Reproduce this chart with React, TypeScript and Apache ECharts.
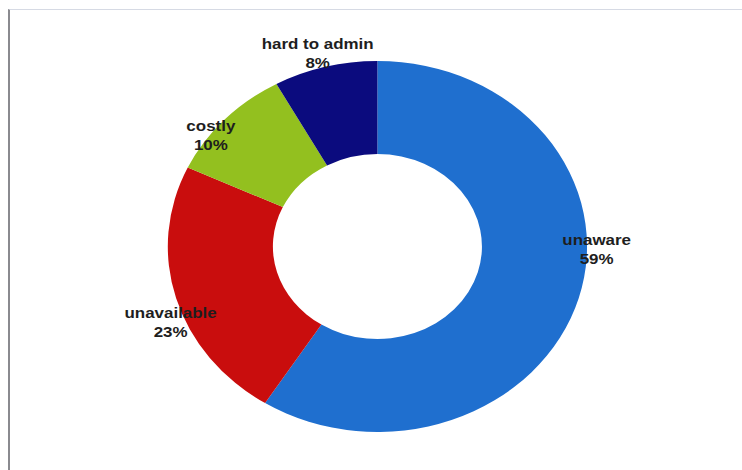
import React, { useEffect, useRef } from "react";
import * as echarts from "echarts";

// Reasons and their shares (%)
const reasons = ["unaware", "unavailable", "costly", "hard to admin"];
const shares = [59, 23, 10, 8];
const sliceColors = ["#1f6fcf", "#c90d0d", "#93c01f", "#0b0b7e"];

// The chart is laid out at this width and stretched horizontally,
// which turns the ring into the wide oval.
const STRETCH = 1.13;
const BASE_W = 742 / STRETCH;

// Nudges for each label away from its slice's mid-angle point on the rim
const labelNudges: [number, number][] = [
  [13, -50],
  [-2, 23],
  [-10, 18],
  [-6, -11],
];

export default function App() {
  const ref = useRef<HTMLDivElement>(null);

  useEffect(() => {
    if (!ref.current) return;
    const chart = echarts.init(ref.current, undefined, { renderer: "svg" });
    const center = [334, 246.5];

    chart.setOption({
      animation: false,
      backgroundColor: "transparent",
      series: [
        {
          type: "pie",
          center,
          radius: [92.5, 185.5],
          startAngle: 90,
          clockwise: true,
          silent: true,
          label: { show: false },
          labelLine: { show: false },
          data: reasons.map((name, i) => ({
            name,
            value: shares[i],
            itemStyle: { color: sliceColors[i] },
          })),
        },
        {
          // invisible ring along the rim that only carries the labels
          type: "pie",
          center,
          radius: [175, 196],
          startAngle: 90,
          clockwise: true,
          silent: true,
          z: 5,
          itemStyle: { color: "rgba(0,0,0,0)" },
          labelLine: { show: false },
          data: reasons.map((name, i) => ({
            name,
            value: shares[i],
            label: { offset: labelNudges[i] },
          })),
          label: {
            show: true,
            position: "inside",
            formatter: (p: any) => `${p.name}\n${p.value}%`,
            color: "#1e1e1e",
            fontFamily: "Liberation Sans, Arial, sans-serif",
            fontWeight: "bold",
            fontSize: 15,
            lineHeight: 19,
            align: "center",
          },
        },
      ],
    });
    return () => chart.dispose();
  }, []);

  return (
    <div
      style={{
        position: "fixed",
        left: 0,
        top: 0,
        width: 742,
        height: 470,
        background: "#ffffff",
        overflow: "hidden",
      }}
    >
      <div
        style={{
          position: "absolute",
          left: 8,
          top: 9,
          right: 0,
          bottom: 0,
          borderLeft: "2px solid #8a8a8f",
          borderTop: "1px solid #d6dae4",
        }}
      />
      <div
        ref={ref}
        style={{
          position: "absolute",
          left: 0,
          top: 0,
          width: BASE_W,
          height: 470,
          transform: `scaleX(${STRETCH})`,
          transformOrigin: "0 0",
        }}
      />
    </div>
  );
}
